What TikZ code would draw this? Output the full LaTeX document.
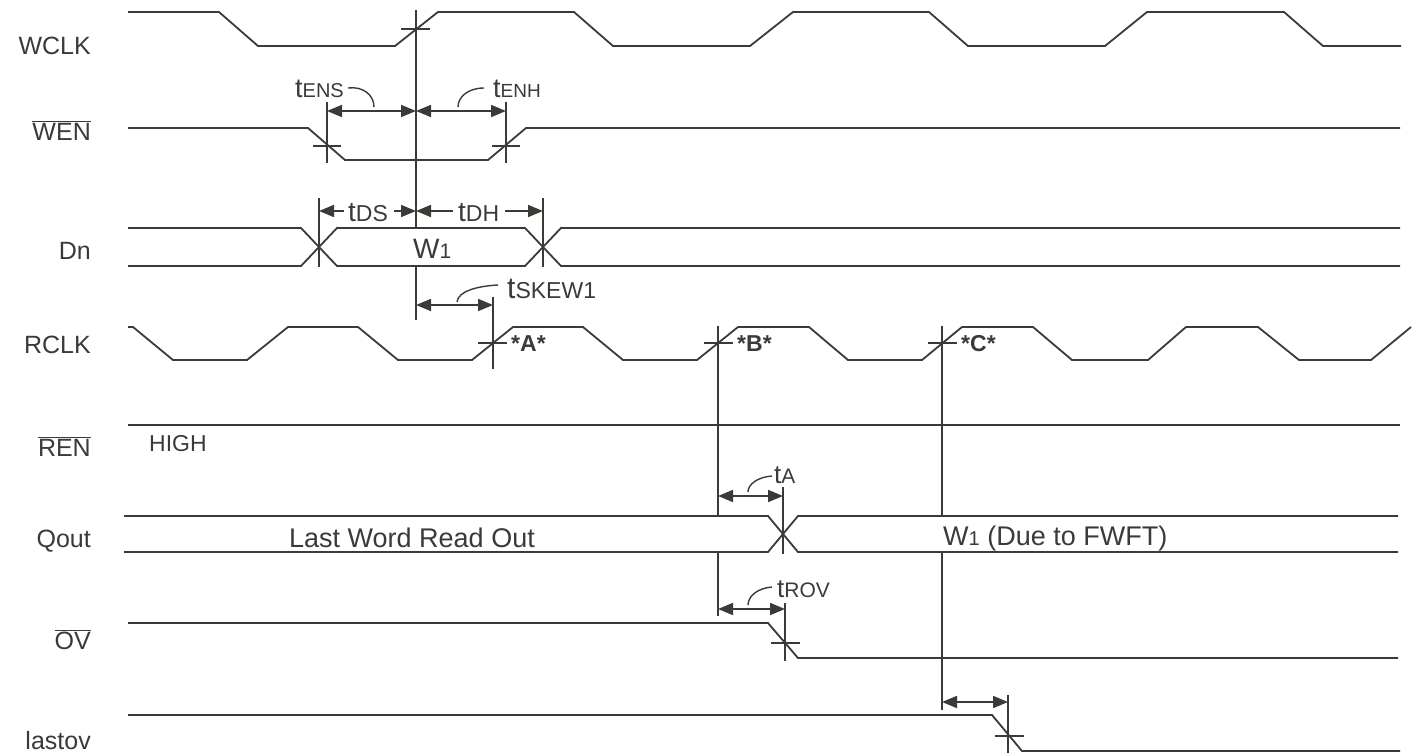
\documentclass[tikz,border=0pt]{standalone}
\usepackage{fontspec}
\setmainfont{Liberation Sans}
\usetikzlibrary{arrows.meta}
\definecolor{ink}{RGB}{58,58,54}
\newcommand\sfs[2]{{\fontsize{#1}{#1}\selectfont #2}}
\newcommand\ovl[1]{$\overline{\hbox{#1}}$}
\begin{document}
\begin{tikzpicture}[x=1pt,y=-1pt,
  wave/.style={draw=ink,line width=1.8pt},
  tickln/.style={draw=ink,line width=1.6pt},
  dim/.style={draw=ink,line width=1.8pt,{Triangle[length=15pt,width=12pt]}-{Triangle[length=15pt,width=12pt]}},
  dimL/.style={draw=ink,line width=1.8pt,{Triangle[length=15pt,width=12pt]}-},
  dimR/.style={draw=ink,line width=1.8pt,-{Triangle[length=15pt,width=12pt]}},
  lead/.style={draw=ink,line width=1.4pt},
  sig/.style={anchor=base east,inner sep=0,text=ink,font=\fontsize{25}{25}\selectfont},
  lbl/.style={inner sep=0,text=ink},
  edgemark/.style={anchor=west,inner sep=0,text=ink,font=\fontsize{23}{23}\selectfont\bfseries}]
\useasboundingbox (0,0) rectangle (1419,753);

% signal names
\node[sig] (nWCLK) at (91,54) {WCLK};
\node[sig] (nWEN) at (91,140) {\ovl{WEN}};
\node[sig] (nDn) at (91,259) {Dn};
\node[sig] (nRCLK) at (91,353) {RCLK};
\node[sig] (nREN) at (91,456) {\ovl{REN}};
\node[sig] (nQout) at (91,547) {Qout};
\node[sig] (nOV) at (91,649) {\ovl{OV}};
\node[sig] (nlastov) at (91,749) {lastov};

% WCLK
\draw[wave] (128,12) -- (219,12) -- (258,46) -- (395,46) -- (438,12) -- (574,12) -- (613,46) -- (750,46) -- (793,12) -- (929,12) -- (968,46) -- (1105,46) -- (1147,12) -- (1284,12) -- (1323,46) -- (1401,46);
% WEN
\draw[wave] (128,128) -- (308,128) -- (345,160) -- (488,160) -- (526,128) -- (1400,128);
% Dn
\draw[wave] (128,228) -- (301,228) -- (337,266) -- (525,266) -- (561,228) -- (1400,228);
\draw[wave] (128,266) -- (301,266) -- (337,228) -- (525,228) -- (561,266) -- (1400,266);
% RCLK
\draw[wave] (128,327) -- (133,327) -- (173,360) -- (247,360) -- (288,327) -- (358,327) -- (398,360) -- (472,360) -- (513,327) -- (583,327) -- (623,360) -- (697,360) -- (738,327) -- (809,327) -- (848,360) -- (922,360) -- (962,327) -- (1033,327) -- (1072,360) -- (1148,360) -- (1186,327) -- (1258,327) -- (1299,360) -- (1371,360) -- (1411,327);
% REN
\draw[wave] (128,425) -- (1400,425);
% Qout
\draw[wave] (124,516) -- (768,516) -- (798,552) -- (1398,552);
\draw[wave] (124,552) -- (768,552) -- (798,516) -- (1398,516);
% OV
\draw[wave] (128,623) -- (768,623) -- (798,658) -- (1398,658);
% lastov
\draw[wave] (128,715) -- (992,715) -- (1022,751) -- (1400,751);

% reference lines and ticks
\draw[tickln] (416,10) -- (416,228);
\draw[tickln] (416,266) -- (416,320);
\draw[tickln] (401,29) -- (430,29);
\draw[tickln] (327,102) -- (327,163);
\draw[tickln] (313,146) -- (341,146);
\draw[tickln] (506,102) -- (506,163);
\draw[tickln] (492,146) -- (520,146);
\draw[tickln] (319,198) -- (319,267);
\draw[tickln] (543,198) -- (543,267);
\draw[tickln] (493,297) -- (493,369);
\draw[tickln] (478,343) -- (507,343);
\draw[tickln] (718,326) -- (718,516);
\draw[tickln] (718,552) -- (718,616);
\draw[tickln] (704,343) -- (733,343);
\draw[tickln] (942,326) -- (942,516);
\draw[tickln] (942,552) -- (942,710);
\draw[tickln] (928,343) -- (957,343);
\draw[tickln] (783,487) -- (783,554);
\draw[tickln] (785,603) -- (785,661);
\draw[tickln] (771,643) -- (800,643);
\draw[tickln] (1008,695) -- (1008,753);
\draw[tickln] (995,736) -- (1024,736);

% coordinates for dimension arrows
\coordinate (ensA) at (327,111); \coordinate (ensB) at (416,111);
\coordinate (enhB) at (506,111);
\coordinate (dsA) at (319,211); \coordinate (dsA2) at (344,211);
\coordinate (dsB2) at (394,211); \coordinate (dsB) at (416,211);
\coordinate (dhA2) at (453,211); \coordinate (dhB2) at (505,211);
\coordinate (dhB) at (543,211);
\coordinate (skA) at (416,305); \coordinate (skB) at (493,305);
\coordinate (taA) at (718,496); \coordinate (taB) at (783,496);
\coordinate (roA) at (718,609); \coordinate (roB) at (785,609);
\coordinate (lvA) at (942,702); \coordinate (lvB) at (1008,702);

\draw[dim] (ensA) -- (ensB);
\draw[dim] (ensB) -- (enhB);
\draw[dimL] (dsA) -- (dsA2);
\draw[dimR] (dsB2) -- (dsB);
\draw[dimL] (dsB) -- (dhA2);
\draw[dimR] (dhB2) -- (dhB);
\draw[dim] (skA) -- (skB);
\draw[dim] (taA) -- (taB);
\draw[dim] (roA) -- (roB);
\draw[dim] (lvA) -- (lvB);

% timing labels
\node[lbl,anchor=base west] (tENS) at (295,97) {\sfs{27}{t}\sfs{20}{ENS}};
\node[lbl,anchor=base west] (tENH) at (493,97) {\sfs{27}{t}\sfs{19}{ENH}};
\node[lbl,anchor=base west] (tDS) at (348,221) {\sfs{28}{t}\sfs{23}{DS}};
\node[lbl,anchor=base west] (tDH) at (458,221) {\sfs{28}{t}\sfs{23}{DH}};
\node[lbl,anchor=base west] (tSKEW) at (507,298) {\sfs{30}{t}\sfs{23}{SKEW1}};
\node[lbl,anchor=base west] (tA) at (774,483) {\sfs{26}{t}\sfs{21}{A}};
\node[lbl,anchor=base west] (tROV) at (777,597) {\sfs{26}{t}\sfs{21}{ROV}};

% leaders
\draw[lead] (348,88) .. controls (363,86) and (374,95) .. (374,107);
\draw[lead] (484,88) .. controls (468,88) and (458,97) .. (458,107);
\draw[lead] (498,285) .. controls (478,286) and (458,291) .. (457,302);
\draw[lead] (772,476) .. controls (758,477) and (748,484) .. (748,492);
\draw[lead] (772,587) .. controls (758,588) and (748,596) .. (748,605);

% data labels
\node[lbl,anchor=base west] (W1) at (413,258) {\sfs{28}{W}\sfs{21}{1}};
\node[lbl,anchor=base west] (HIGH) at (149,451) {\sfs{23}{HIGH}};
\node[lbl,anchor=base] (LW) at (412,547) {\sfs{27}{Last Word Read Out}};
\node[lbl,anchor=base west] (W1F) at (943,545) {\sfs{27}{W\sfs{20}{1} (Due to FWFT)}};

% RCLK edge marks
\node[edgemark] (mA) at (511,344) {*A*};
\node[edgemark] (mB) at (737,344) {*B*};
\node[edgemark] (mC) at (961,344) {*C*};
\end{tikzpicture}
\end{document}
